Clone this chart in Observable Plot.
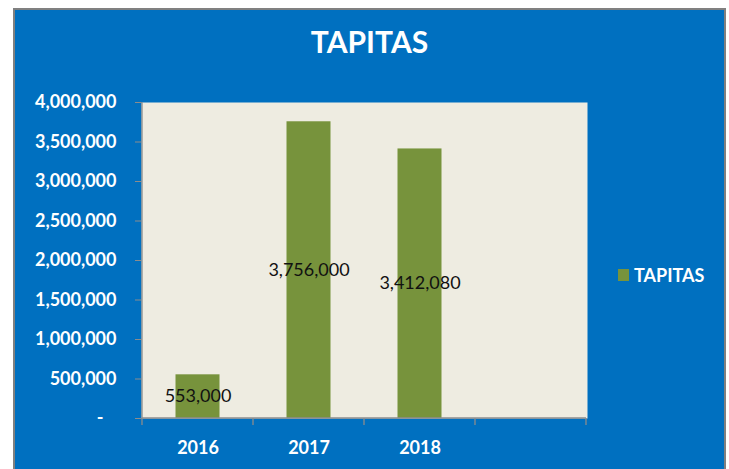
<!DOCTYPE html>
<html>
<head>
<meta charset="utf-8">
<script src="https://cdn.jsdelivr.net/npm/d3@7"></script>
<script src="https://cdn.jsdelivr.net/npm/@observablehq/plot@0.6"></script>
<style>
  html, body { margin: 0; padding: 0; background: #ffffff; width: 729px; height: 469px; overflow: hidden; }
  #box { position: absolute; left: 13px; top: 8px; width: 709px; height: 470px; background: #0070C0; border: 2px solid #808080; border-bottom: none; }
  #title { position: absolute; left: 13px; top: 23px; width: 713px; text-align: center; color: #ffffff; font: bold 30px Lato, sans-serif; }
  #chart { position: absolute; left: 0; top: 0; }
  #legend { position: absolute; left: 618px; top: 264px; display: flex; align-items: center; color: #ffffff; font: bold 18px Lato, sans-serif; }
  #legend .sw { width: 11px; height: 12px; margin-right: 5px; }
</style>
</head>
<body>
<div id="box"></div>
<div id="title"></div>
<div id="chart"></div>
<div id="legend"></div>
<script>
const titleText = "TAPITAS";
const seriesName = "TAPITAS";
const categories = ["2016", "2017", "2018", ""];
const years = ["2016", "2017", "2018"];
const values = [553000, 3756000, 3412080];
const yTicks = [0, 500000, 1000000, 1500000, 2000000, 2500000, 3000000, 3500000, 4000000];
const barColor = "#77933C";

const data = years.map((c, i) => ({category: c, value: values[i]}));
const fmt = d3.format(",");

document.getElementById("title").textContent = titleText;
const lg = document.getElementById("legend");
const sw = document.createElement("div");
sw.className = "sw";
sw.style.background = barColor;
const lt = document.createElement("span");
lt.textContent = seriesName;
lg.appendChild(sw);
lg.appendChild(lt);

const boundaryTicks = (index, scales, values, dimensions) => {
  const x = scales.x, y = scales.y;
  const bw = x.bandwidth ? x.bandwidth() : (dimensions.width - dimensions.marginLeft - dimensions.marginRight) / categories.length;
  const xs = categories.map(c => x(c));
  xs.push(x(categories[categories.length - 1]) + bw);
  const y0 = y(0);
  const g = d3.create("svg:g").attr("stroke", "#8c8c8c").attr("stroke-width", 1.3);
  for (const xv of xs) {
    g.append("line").attr("x1", xv).attr("x2", xv).attr("y1", y0).attr("y2", y0 + 7);
  }
  g.append("line").attr("x1", xs[0]).attr("x2", xs[0]).attr("y1", y(4000000)).attr("y2", y0);
  g.append("line").attr("x1", xs[0]).attr("x2", xs[xs.length - 1]).attr("y1", y0).attr("y2", y0);
  return g.node();
};

const chart = Plot.plot({
  width: 729,
  height: 469,
  marginLeft: 141,
  marginRight: 142,
  marginTop: 102,
  marginBottom: 51,
  style: {background: "transparent", fontFamily: "Lato, sans-serif", overflow: "visible"},
  x: {domain: categories, padding: 0},
  y: {domain: [0, 4000000]},
  marks: [
    Plot.frame({fill: "#EEECE1", stroke: null}),
    Plot.barY(data, {x: "category", y: "value", fill: barColor, insetLeft: 33.5, insetRight: 33.5}),
    Plot.text(data, {x: "category", y: d => d.value / 2, text: d => fmt(d.value), fill: "#111111", fontSize: 18, fontWeight: "normal"}),
    Plot.axisY({ticks: yTicks, tickFormat: d => d === 0 ? "-\u00a0\u00a0\u00a0" : fmt(d), tickSize: 6, tickPadding: 19, stroke: "#8c8c8c", fill: "#ffffff", fontSize: 18, fontWeight: "bold", label: null}),
    Plot.axisX({tickSize: 0, tickPadding: 23, fill: "#ffffff", fontSize: 18, fontWeight: "bold", label: null}),
    boundaryTicks
  ]
});
document.getElementById("chart").appendChild(chart);
</script>
</body>
</html>
